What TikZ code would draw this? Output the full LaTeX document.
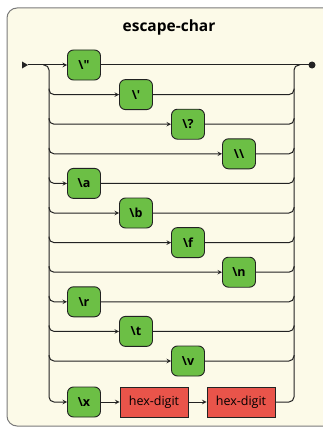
\documentclass[tikz,border=0pt]{standalone}
\usepackage{fontspec}
\newfontfamily\railfont{Open Sans}
\usetikzlibrary{calc,positioning,arrows}
\definecolor{panelbg}{HTML}{FCFAE8}
\definecolor{panelrim}{HTML}{7A7A7A}
\definecolor{termgreen}{HTML}{6CBF45}
\definecolor{ntred}{HTML}{E9544A}
\definecolor{wirecol}{HTML}{222222}

\begin{document}
\begin{tikzpicture}[x=1pt,y=-1pt,inner sep=0mm,>=stealth,
  term/.style={draw=wirecol,line width=0.9pt,fill=termgreen,rounded corners=6pt,
    minimum width=33pt,minimum height=30pt,font=\railfont\bfseries\fontsize{12.5}{14}\selectfont},
  nonterm/.style={draw=wirecol,line width=0.9pt,fill=ntred,
    minimum width=68pt,minimum height=30pt,font=\railfont\fontsize{12.5}{14}\selectfont},
  rail/.style={draw=wirecol,line width=1pt,rounded corners=5pt}]

\useasboundingbox (0,0) rectangle (323,428);
\draw[draw=panelrim,fill=panelbg,line width=1pt,rounded corners=10pt] (7,8) rectangle (345,426);

\node[font=\railfont\bfseries\fontsize{15.5}{17}\selectfont] (title) at (169,27) {escape-char};

\coordinate (in) at (28,65);
\coordinate (split) at (49,65);
\coordinate (join) at (294,65);
\coordinate (out) at (312,65);

\node[term] (dquote) at (84,65) {\textbackslash"};
\node[term] (squote) at (136,94.6) {\textbackslash'};
\node[term] (qmark) at (188,124.2) {\textbackslash?};
\node[term] (bslash) at (239,153.8) {\textbackslash\textbackslash};
\node[term] (alert) at (84,183.4) {\textbackslash a};
\node[term] (bspace) at (136,213) {\textbackslash b};
\node[term] (ffeed) at (188,242.6) {\textbackslash f};
\node[term] (nline) at (239,272.2) {\textbackslash n};
\node[term] (cret) at (84,301.8) {\textbackslash r};
\node[term] (htab) at (136,331.4) {\textbackslash t};
\node[term] (vtab) at (188,361) {\textbackslash v};
\node[term] (hexesc) at (84,402) {\textbackslash x};
\node[nonterm] (hexa) at (154,402) {hex-digit};
\node[nonterm] (hexb) at (241,402) {hex-digit};

% entry and exit marks
\fill[wirecol] (in) -- ++(-6,-3.5) -- ++(0,7) -- cycle;
\fill[wirecol] (out) circle (3.5pt);

\draw[rail,->] (in) -- (dquote);
\draw[rail] (dquote) -- (out);

% left rail, each branch hangs off the one above
\draw[rail,->] (split) ++(-6,0) -- (split) |- (squote);
\draw[rail,->] ($(squote -| split)+(0,-6)$) |- (qmark);
\draw[rail,->] ($(qmark -| split)+(0,-6)$) |- (bslash);
\draw[rail,->] ($(bslash -| split)+(0,-6)$) |- (alert);
\draw[rail,->] ($(alert -| split)+(0,-6)$) |- (bspace);
\draw[rail,->] ($(bspace -| split)+(0,-6)$) |- (ffeed);
\draw[rail,->] ($(ffeed -| split)+(0,-6)$) |- (nline);
\draw[rail,->] ($(nline -| split)+(0,-6)$) |- (cret);
\draw[rail,->] ($(cret -| split)+(0,-6)$) |- (htab);
\draw[rail,->] ($(htab -| split)+(0,-6)$) |- (vtab);
\draw[rail,->] ($(vtab -| split)+(0,-6)$) |- (hexesc);

% right rail
\draw[rail] (squote) -| (join) -- ++(6,0);
\draw[rail] (qmark) -| ($(squote -| join)+(0,-6)$);
\draw[rail] (bslash) -| ($(qmark -| join)+(0,-6)$);
\draw[rail] (alert) -| ($(bslash -| join)+(0,-6)$);
\draw[rail] (bspace) -| ($(alert -| join)+(0,-6)$);
\draw[rail] (ffeed) -| ($(bspace -| join)+(0,-6)$);
\draw[rail] (nline) -| ($(ffeed -| join)+(0,-6)$);
\draw[rail] (cret) -| ($(nline -| join)+(0,-6)$);
\draw[rail] (htab) -| ($(cret -| join)+(0,-6)$);
\draw[rail] (vtab) -| ($(htab -| join)+(0,-6)$);
\draw[rail] (hexb) -| ($(vtab -| join)+(0,-6)$);

\draw[rail,->] (hexesc) -- (hexa);
\draw[rail,->] (hexa) -- (hexb);

\end{tikzpicture}
\end{document}
